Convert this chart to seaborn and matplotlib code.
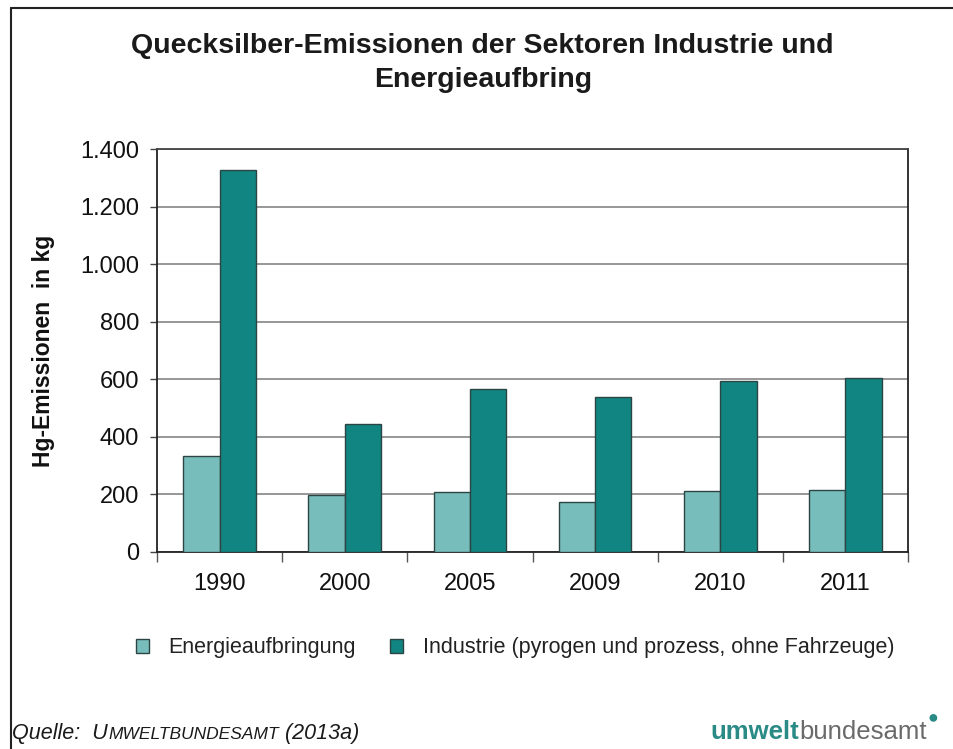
import matplotlib
matplotlib.use("Agg")
import matplotlib.pyplot as plt
from matplotlib.lines import Line2D
from matplotlib.ticker import FixedLocator, FuncFormatter
import seaborn as sns
import pandas as pd

years = ["1990", "2000", "2005", "2009", "2010", "2011"]
energie = [334, 196, 209, 172, 210, 214]
industrie = [1327, 443, 566, 537, 593, 603]
series_names = ["Energieaufbringung",
                "Industrie (pyrogen und prozess, ohne Fahrzeuge)"]
y_ticks = [0, 200, 400, 600, 800, 1000, 1200, 1400]

df = pd.DataFrame({
    "Jahr": years * 2,
    "Wert": energie + industrie,
    "Sektor": [series_names[0]] * len(years) + [series_names[1]] * len(years),
})

sns.set_theme(style="white")
plt.rcParams["font.family"] = ["Liberation Sans", "DejaVu Sans"]

fig = plt.figure(figsize=(9.54, 7.49), dpi=100)
ax = fig.add_axes([0.1646, 0.2634, 0.7872, 0.5373])

palette = {series_names[0]: "#77bdbb", series_names[1]: "#108581"}
sns.barplot(data=df, x="Jahr", y="Wert", hue="Sektor", order=years,
            hue_order=series_names, palette=palette, width=0.58,
            edgecolor="#2c4444", linewidth=1.0, saturation=1,
            ax=ax, legend=True, zorder=3)

ax.set_ylim(0, 1400)
ax.set_xlim(-0.5, len(years) - 0.5)
ax.yaxis.set_major_locator(FixedLocator(y_ticks))
ax.yaxis.set_major_formatter(
    FuncFormatter(lambda v, p: f"{int(v):,}".replace(",", ".")))
ax.grid(axis="y", color="#7a7a7a", linewidth=1.1, zorder=0)
ax.set_axisbelow(True)

for side in ["left", "bottom", "top", "right"]:
    ax.spines[side].set_visible(True)
    ax.spines[side].set_color("#222222")
    ax.spines[side].set_linewidth(1.3)
ax.spines["top"].set_color("#444444")

ax.tick_params(axis="y", which="major", direction="out", length=5,
               width=1, color="#444444", left=True, labelsize=17,
               labelcolor="#111111", pad=8)
ax.tick_params(axis="x", which="major", length=0, labelsize=17,
               labelcolor="#111111", pad=15)
ax.xaxis.set_minor_locator(FixedLocator([i - 0.5 for i in range(len(years) + 1)]))
ax.tick_params(axis="x", which="minor", direction="out", length=7,
               width=1, color="#555555", bottom=True)

ax.set_xlabel("")
ax.set_ylabel("Hg-Emissionen  in kg", fontsize=16.5, fontweight="bold",
              color="#111111", labelpad=18)

handles, labels = ax.get_legend_handles_labels()
ax.get_legend().remove()
fig.legend(handles, labels, loc="center", bbox_to_anchor=(0.54, 0.135),
           ncol=2, frameon=False, fontsize=15.5, handlelength=0.6,
           handleheight=0.6, handletextpad=0.9, columnspacing=1.6,
           labelcolor="#222222")

fig.text(0.506, 0.916, "Quecksilber-Emissionen der Sektoren Industrie und\nEnergieaufbring",
         ha="center", va="center", fontsize=20.5, fontweight="bold",
         color="#1a1a1a", linespacing=1.42)

# source line with small caps
t1 = fig.text(0.013, 0.014, "Quelle:  U", fontsize=15.5, style="italic",
              color="#1a1a1a", ha="left", va="baseline")
fig.canvas.draw()
x2 = t1.get_window_extent().x1 / fig.bbox.width
t2 = fig.text(x2, 0.014, "MWELTBUNDESAMT", fontsize=12.5, style="italic",
              color="#1a1a1a", ha="left", va="baseline")
fig.canvas.draw()
x3 = t2.get_window_extent().x1 / fig.bbox.width
fig.text(x3, 0.014, " (2013a)", fontsize=15.5, style="italic",
         color="#1a1a1a", ha="left", va="baseline")

# logo wordmark
lg = fig.text(0.745, 0.014, "umwelt", fontsize=18.5, fontweight="bold",
              color="#2a8a86", ha="left", va="baseline")
fig.canvas.draw()
xl = lg.get_window_extent().x1 / fig.bbox.width
lb = fig.text(xl, 0.014, "bundesamt", fontsize=18.5, color="#6a6a6a",
              ha="left", va="baseline")
fig.canvas.draw()
xb = lb.get_window_extent().x1 / fig.bbox.width
fig.text(xb + 0.001, 0.036, "\u25cf", fontsize=13, color="#2a8a86",
         ha="left", va="baseline")

# outer frame (top and left edges)
fig.add_artist(Line2D([0.0115, 1.0], [0.989, 0.989], transform=fig.transFigure,
                      color="#222222", linewidth=1.5))
fig.add_artist(Line2D([0.0115, 0.0115], [0.0, 0.989], transform=fig.transFigure,
                      color="#222222", linewidth=1.5))

fig.savefig("out.png", dpi=100, facecolor="white")
